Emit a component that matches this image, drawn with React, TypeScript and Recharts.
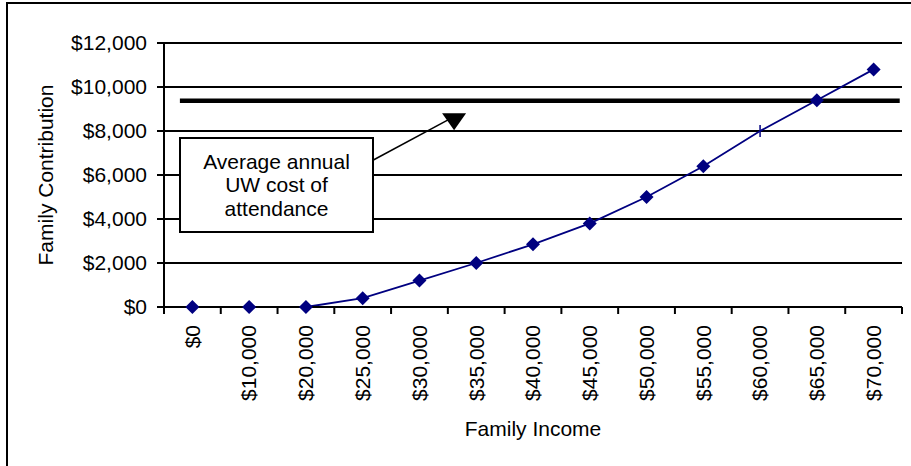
import React from 'react';
import { LineChart, Line, XAxis, YAxis, CartesianGrid, ReferenceLine, ReferenceDot, Label } from 'recharts';

const incomeLabels = ['$0', '$10,000', '$20,000', '$25,000', '$30,000', '$35,000', '$40,000', '$45,000', '$50,000', '$55,000', '$60,000', '$65,000', '$70,000'];
const contribution = [0, 0, 0, 400, 1200, 2000, 2850, 3800, 5000, 6400, 8000, 9400, 10800];
const yTicks = [0, 2000, 4000, 6000, 8000, 10000, 12000];
const avgCost = 9380;
const noteLines = ['Average annual', 'UW cost of', 'attendance'];

const data = incomeLabels.map((label, idx) => ({ idx, label, value: contribution[idx] }));
// tick marks sit between categories, like the original
const xTicks = [...incomeLabels.map((_, i) => i - 0.5), incomeLabels.length - 0.5];

const W = 911;
const H = 466;
const M = { top: 43, right: 9, left: 0, bottom: 0 };
const Y_AXIS_W = 164;
const X_AXIS_H = 159;
const BAND = (W - M.left - M.right - Y_AXIS_W) / incomeLabels.length;
const FONT = '"Liberation Sans", Arial, sans-serif';
const NAVY = '#000080';

const XTick = (props: any) => {
  const { x, y, payload } = props;
  const label = incomeLabels[Math.round(payload.value + 0.5)];
  if (!label) return null;
  const tx = x + BAND / 2;
  const ty = y + 11;
  return (
    <text x={tx} y={ty} transform={`rotate(-90, ${tx}, ${ty})`} textAnchor="end" dy="0.35em"
      fontSize={21} fontFamily={FONT} fill="#000">
      {label}
    </text>
  );
};

const Marker = (props: any) => {
  const { cx, cy, index } = props;
  if (cx == null || cy == null) return null;
  if (incomeLabels[index] === '$60,000') {
    return <line key={index} x1={cx} x2={cx} y1={cy - 6} y2={cy + 6} stroke={NAVY} strokeWidth={1.5} />;
  }
  const r = 7;
  return <polygon key={index} points={`${cx},${cy - r} ${cx + r},${cy} ${cx},${cy + r} ${cx - r},${cy}`} fill={NAVY} />;
};

const ArrowHead = (props: any) => {
  const { cx, cy } = props;
  return <polygon points={`${cx - 12},${cy - 6} ${cx + 12},${cy - 6} ${cx},${cy + 11}`} fill="#000" />;
};

const App: React.FC = () => {
  return (
    <div style={{ position: 'absolute', left: 0, top: 0, width: W, height: H, overflow: 'hidden', background: '#fff', fontFamily: FONT }}>
      <div style={{ position: 'absolute', left: 6, top: 2, width: 1000, height: 1000, border: '2px solid #000' }} />
      <div style={{ position: 'absolute', left: 0, top: 0 }}>
        <LineChart width={W} height={H} data={data} margin={M}>
          <CartesianGrid vertical={false} stroke="#000" strokeWidth={2} />
          <XAxis type="number" dataKey="idx" domain={[-0.5, incomeLabels.length - 0.5]} ticks={xTicks} interval={0}
            height={X_AXIS_H} tick={<XTick />} tickSize={7} tickMargin={0}
            axisLine={{ stroke: '#000', strokeWidth: 2 }} tickLine={{ stroke: '#000', strokeWidth: 2 }}>
            <Label content={(p: any) => (
              <text x={p.viewBox.x + p.viewBox.width / 2} y={p.viewBox.y + 129} textAnchor="middle"
                fontSize={21} fontFamily={FONT} fill="#000">Family Income</text>
            )} />
          </XAxis>
          <YAxis type="number" domain={[0, 12000]} ticks={yTicks} interval={0} width={Y_AXIS_W}
            tickSize={7} tickMargin={10} tickFormatter={(v: number) => '$' + v.toLocaleString('en-US')}
            tick={{ fontSize: 21, fill: '#000', fontFamily: FONT }}
            axisLine={{ stroke: '#000', strokeWidth: 2 }} tickLine={{ stroke: '#000', strokeWidth: 2 }}>
            <Label content={(p: any) => {
              const cy = p.viewBox.y + p.viewBox.height / 2;
              return (
                <text x={53} y={cy} transform={`rotate(-90, 53, ${cy})`} textAnchor="middle"
                  fontSize={21} fontFamily={FONT} fill="#000">Family Contribution</text>
              );
            }} />
          </YAxis>
          <ReferenceLine segment={[{ x: -0.22, y: avgCost }, { x: 12.46, y: avgCost }]} stroke="#000" strokeWidth={4.5} />
          <ReferenceLine segment={[{ x: 3.18, y: 6670 }, { x: 4.52, y: 8530 }]} stroke="#000" strokeWidth={1.5} />
          <ReferenceDot x={4.61} y={8530} r={1} shape={<ArrowHead />} />
          <Line type="linear" dataKey="value" stroke={NAVY} strokeWidth={1.8} dot={Marker} activeDot={false} isAnimationActive={false} />
        </LineChart>
      </div>
      <div style={{
        position: 'absolute', left: 179, top: 137, width: 195, height: 96, boxSizing: 'border-box',
        border: '2px solid #000', background: '#fff', display: 'flex', flexDirection: 'column',
        justifyContent: 'center', alignItems: 'center', fontSize: 21, lineHeight: '23.5px', color: '#000',
      }}>
        {noteLines.map((t) => <div key={t}>{t}</div>)}
      </div>
    </div>
  );
};

export default App;
